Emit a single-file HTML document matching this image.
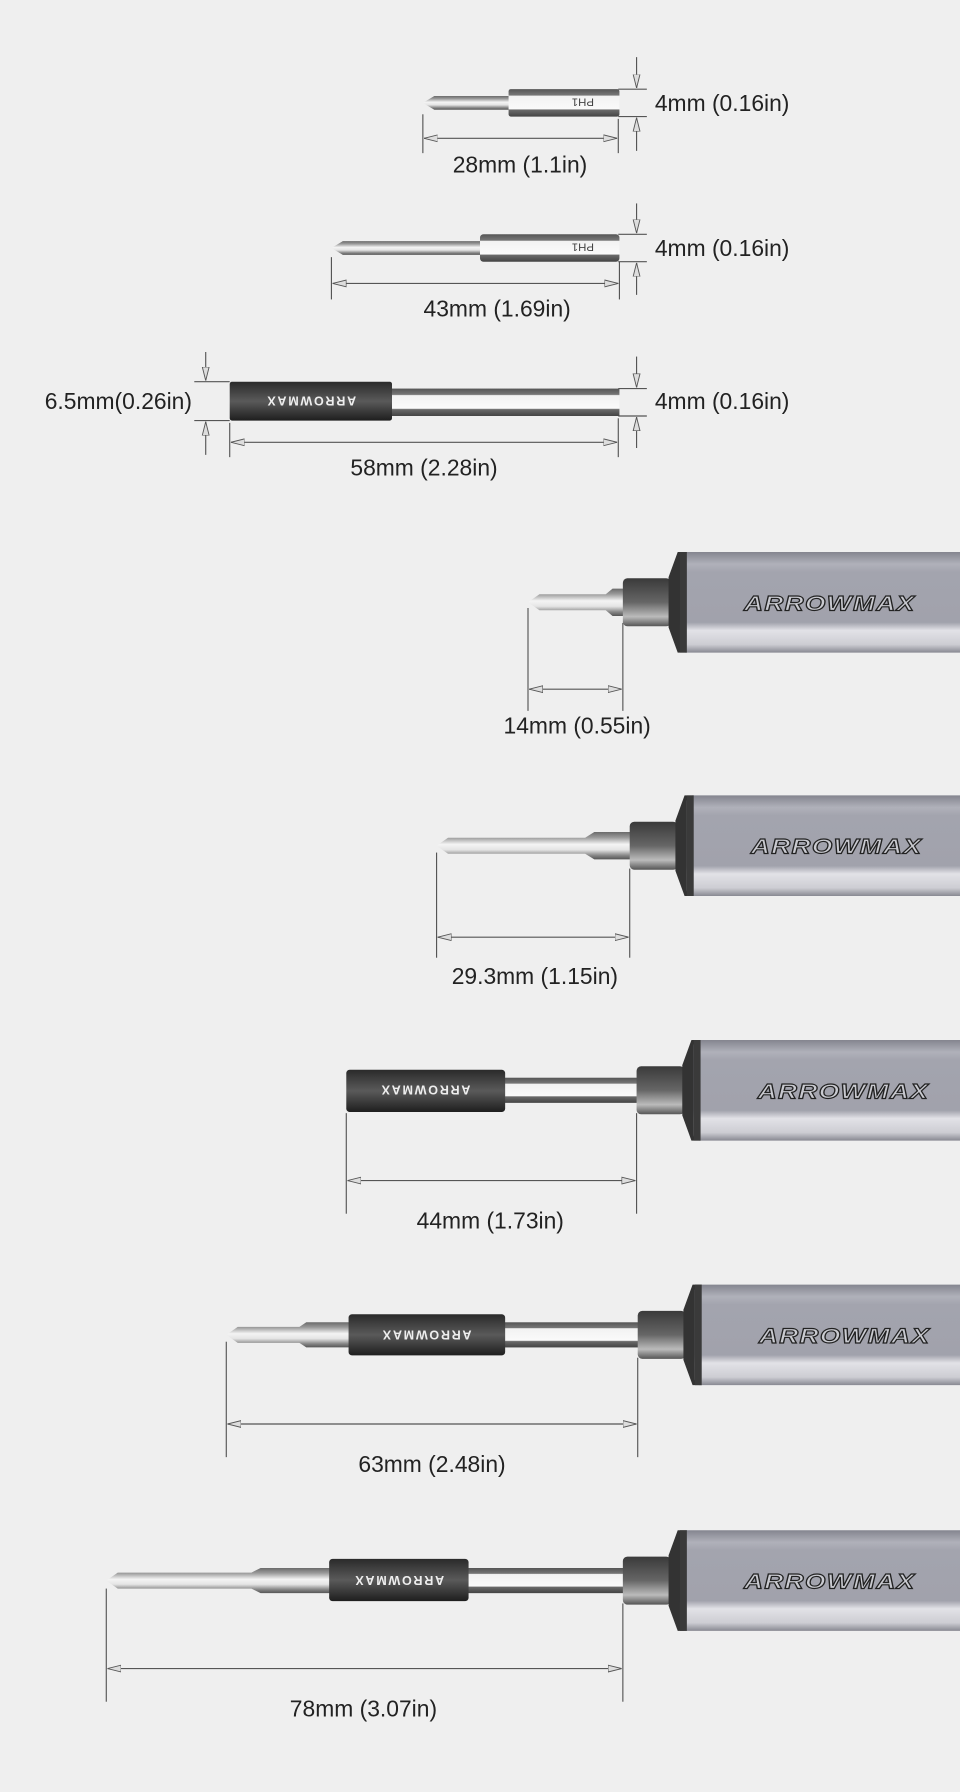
<!DOCTYPE html>
<html><head><meta charset="utf-8"><style>
html,body{margin:0;padding:0;background:#efefef;}
svg{display:block;}
text{font-family:"Liberation Sans",sans-serif;}
</style></head><body>
<svg width="960" height="1792" viewBox="0 0 840 1568" xmlns="http://www.w3.org/2000/svg">
<defs>
<linearGradient id="sh" x1="0" y1="0" x2="0" y2="1">
<stop offset="0" stop-color="#6a6a6a"/><stop offset="0.2" stop-color="#9a9a9a"/><stop offset="0.45" stop-color="#f4f4f4"/><stop offset="0.65" stop-color="#e4e4e4"/><stop offset="0.85" stop-color="#888"/><stop offset="1" stop-color="#555"/>
</linearGradient>
<linearGradient id="hex" x1="0" y1="0" x2="0" y2="1">
<stop offset="0" stop-color="#555"/><stop offset="0.22" stop-color="#777"/><stop offset="0.25" stop-color="#f2f2f2"/><stop offset="0.72" stop-color="#fafafa"/><stop offset="0.76" stop-color="#6a6a6a"/><stop offset="1" stop-color="#444"/>
</linearGradient>
<linearGradient id="slv" x1="0" y1="0" x2="0" y2="1">
<stop offset="0" stop-color="#2a2a2a"/><stop offset="0.5" stop-color="#5a5a5a"/><stop offset="1" stop-color="#1e1e1e"/>
</linearGradient>
<linearGradient id="col" x1="0" y1="0" x2="0" y2="1">
<stop offset="0" stop-color="#3a3a3a"/><stop offset="0.5" stop-color="#666"/><stop offset="0.8" stop-color="#bbb"/><stop offset="1" stop-color="#555"/>
</linearGradient>
<linearGradient id="hdl" x1="0" y1="0" x2="0" y2="1">
<stop offset="0" stop-color="#84858f"/><stop offset="0.12" stop-color="#b0b1ba"/><stop offset="0.2" stop-color="#a3a4ae"/><stop offset="0.7" stop-color="#a1a2ac"/><stop offset="0.78" stop-color="#e2e2e7"/><stop offset="0.92" stop-color="#cdcdd3"/><stop offset="1" stop-color="#888992"/>
</linearGradient>
<marker id="ah" viewBox="0 0 12 8" refX="12" refY="4" markerWidth="12" markerHeight="8" markerUnits="userSpaceOnUse" orient="auto-start-reverse">
<path d="M0,1 L12,4 L0,7 Z" fill="#ddd" stroke="#555" stroke-width="0.8"/>
</marker>
<g id="handle">
<rect x="0" y="-21" width="42" height="42" rx="4" fill="url(#col)"/>
<path d="M40,-22 L48,-44 L56,-44 L56,44 L48,44 L40,22 Z" fill="#333"/>
<rect x="50" y="-44" width="300" height="88" rx="5" fill="url(#hdl)"/>
<rect x="50" y="-44" width="6" height="88" fill="#3a3a3a"/>
<text x="106" y="7" font-size="19" font-weight="bold" font-style="italic" fill="#c9cad0" stroke="#222" stroke-width="1" letter-spacing="1" textLength="150" lengthAdjust="spacingAndGlyphs">ARROWMAX</text>
</g>
</defs>
<rect width="840" height="1568" fill="#efefef"/>

<g stroke="#555" stroke-width="1" fill="none">
<line x1="370" y1="100" x2="370" y2="134"/><line x1="541" y1="104" x2="541" y2="134"/>
<line x1="371" y1="121" x2="540" y2="121" marker-start="url(#ah)" marker-end="url(#ah)"/>
<line x1="541" y1="78" x2="566" y2="78"/><line x1="541" y1="102" x2="566" y2="102"/>
<line x1="557" y1="50" x2="557" y2="77" marker-end="url(#ah)"/><line x1="557" y1="132" x2="557" y2="103" marker-end="url(#ah)"/>
<line x1="290" y1="225" x2="290" y2="262"/><line x1="542" y1="229" x2="542" y2="262"/>
<line x1="291" y1="248" x2="541" y2="248" marker-start="url(#ah)" marker-end="url(#ah)"/>
<line x1="541" y1="205" x2="566" y2="205"/><line x1="541" y1="229" x2="566" y2="229"/>
<line x1="557" y1="178" x2="557" y2="204" marker-end="url(#ah)"/><line x1="557" y1="258" x2="557" y2="230" marker-end="url(#ah)"/>
<line x1="201" y1="370" x2="201" y2="400"/><line x1="541" y1="366" x2="541" y2="400"/>
<line x1="202" y1="387" x2="540" y2="387" marker-start="url(#ah)" marker-end="url(#ah)"/>
<line x1="541" y1="340" x2="566" y2="340"/><line x1="541" y1="364" x2="566" y2="364"/>
<line x1="557" y1="312" x2="557" y2="339" marker-end="url(#ah)"/><line x1="557" y1="392" x2="557" y2="365" marker-end="url(#ah)"/>
<line x1="170" y1="334" x2="201" y2="334"/><line x1="170" y1="368" x2="201" y2="368"/>
<line x1="180" y1="308" x2="180" y2="333" marker-end="url(#ah)"/><line x1="180" y1="398" x2="180" y2="369" marker-end="url(#ah)"/>
<line x1="462" y1="532" x2="462" y2="622"/><line x1="545" y1="545" x2="545" y2="622"/>
<line x1="463" y1="603" x2="544" y2="603" marker-start="url(#ah)" marker-end="url(#ah)"/>
<line x1="382" y1="746" x2="382" y2="838"/><line x1="551" y1="760" x2="551" y2="838"/>
<line x1="383" y1="820" x2="550" y2="820" marker-start="url(#ah)" marker-end="url(#ah)"/>
<line x1="303" y1="974" x2="303" y2="1062"/><line x1="557" y1="974" x2="557" y2="1062"/>
<line x1="304" y1="1033" x2="556" y2="1033" marker-start="url(#ah)" marker-end="url(#ah)"/>
<line x1="198" y1="1174" x2="198" y2="1275"/><line x1="558" y1="1188" x2="558" y2="1275"/>
<line x1="199" y1="1246" x2="557" y2="1246" marker-start="url(#ah)" marker-end="url(#ah)"/>
<line x1="93" y1="1390" x2="93" y2="1489"/><line x1="545" y1="1403" x2="545" y2="1489"/>
<line x1="94" y1="1460" x2="544" y2="1460" marker-start="url(#ah)" marker-end="url(#ah)"/>
</g>

<path d="M370,90 L380,84 L447,84 L447,96 L380,96 Z" fill="url(#sh)"/>
<rect x="445" y="78" width="97" height="24" rx="2" fill="url(#hex)"/>
<text x="510" y="86" font-size="10" fill="#444" transform="rotate(180 510 90)" text-anchor="middle" dy="8">PH1</text>
<path d="M290,217 L300,211 L422,211 L422,223 L300,223 Z" fill="url(#sh)"/>
<rect x="420" y="205" width="122" height="24" rx="3" fill="url(#hex)"/>
<text x="510" y="213" font-size="10" fill="#444" transform="rotate(180 510 217)" text-anchor="middle" dy="8">PH1</text>
<rect x="340" y="340" width="202" height="24" fill="url(#hex)"/>
<rect x="201" y="334" width="142" height="34" rx="2" fill="url(#slv)"/>
<text x="272" y="351" font-size="11" font-weight="bold" fill="#eee" letter-spacing="1.5" transform="rotate(180 272 351)" text-anchor="middle" dy="4">ARROWMAX</text>

<path d="M462,527 L472,520 L530,520 L536,515 L546,515 L546,539 L536,539 L530,534 L472,534 Z" fill="url(#sh)"/>
<use href="#handle" x="545" y="527"/>
<path d="M382,740 L392,733 L512,733 L520,728 L552,728 L552,752 L520,752 L512,747 L392,747 Z" fill="url(#sh)"/>
<use href="#handle" x="551" y="740"/>
<rect x="440" y="943" width="119" height="22" fill="url(#hex)"/>
<rect x="303" y="936" width="139" height="37" rx="3" fill="url(#slv)"/>
<text x="372" y="954" font-size="11" font-weight="bold" fill="#eee" letter-spacing="1.5" transform="rotate(180 372 954)" text-anchor="middle" dy="4">ARROWMAX</text>
<use href="#handle" x="557" y="954"/>
<path d="M198,1168 L208,1161 L262,1161 L268,1157 L308,1157 L308,1179 L268,1179 L262,1175 L208,1175 Z" fill="url(#sh)"/>
<rect x="440" y="1157" width="120" height="22" fill="url(#hex)"/>
<rect x="305" y="1150" width="137" height="36" rx="3" fill="url(#slv)"/>
<text x="373" y="1168" font-size="11" font-weight="bold" fill="#eee" letter-spacing="1.5" transform="rotate(180 373 1168)" text-anchor="middle" dy="4">ARROWMAX</text>
<use href="#handle" x="558" y="1168"/>
<path d="M93,1383 L103,1376 L220,1376 L228,1372 L290,1372 L290,1394 L228,1394 L220,1390 L103,1390 Z" fill="url(#sh)"/>
<rect x="408" y="1372" width="139" height="22" fill="url(#hex)"/>
<rect x="288" y="1364" width="122" height="37" rx="3" fill="url(#slv)"/>
<text x="349" y="1383" font-size="11" font-weight="bold" fill="#eee" letter-spacing="1.5" transform="rotate(180 349 1383)" text-anchor="middle" dy="4">ARROWMAX</text>
<use href="#handle" x="545" y="1383"/>

<g font-size="20" fill="#222">
<text x="573" y="97">4mm (0.16in)</text>
<text x="573" y="224">4mm (0.16in)</text>
<text x="573" y="358">4mm (0.16in)</text>
<text x="168" y="358" text-anchor="end">6.5mm(0.26in)</text>
<text x="455" y="151" text-anchor="middle">28mm (1.1in)</text>
<text x="435" y="277" text-anchor="middle">43mm (1.69in)</text>
<text x="371" y="416" text-anchor="middle">58mm (2.28in)</text>
<text x="505" y="642" text-anchor="middle">14mm (0.55in)</text>
<text x="468" y="861" text-anchor="middle">29.3mm (1.15in)</text>
<text x="429" y="1075" text-anchor="middle">44mm (1.73in)</text>
<text x="378" y="1288" text-anchor="middle">63mm (2.48in)</text>
<text x="318" y="1502" text-anchor="middle">78mm (3.07in)</text>
</g>
</svg>
</body></html>
